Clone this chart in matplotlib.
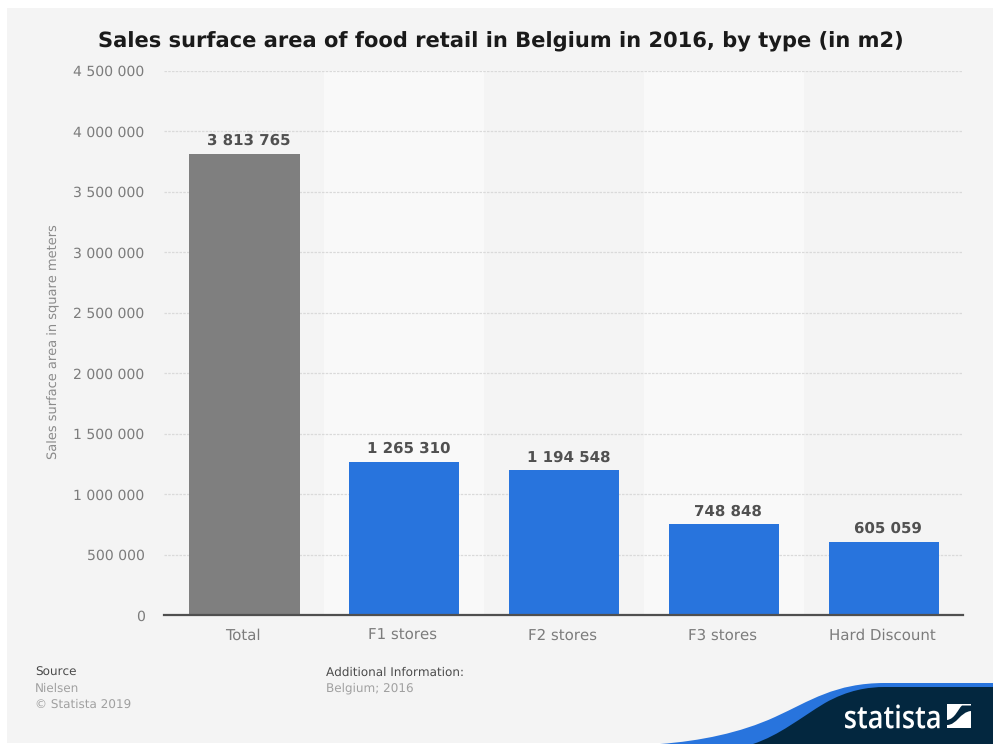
import matplotlib
matplotlib.use("Agg")
import matplotlib.pyplot as plt
from matplotlib.patches import PathPatch, Rectangle
from matplotlib.path import Path
from matplotlib.textpath import TextPath
from matplotlib.font_manager import FontProperties
from matplotlib.transforms import Affine2D, ScaledTranslation
from matplotlib.ticker import FuncFormatter

categories = ["Total", "F1 stores", "F2 stores", "F3 stores", "Hard Discount"]
values = [3813765, 1265310, 1194548, 748848, 605059]
bar_colors = ["#7f7f7f", "#2874dd", "#2874dd", "#2874dd", "#2874dd"]
y_ticks = [0, 500000, 1000000, 1500000, 2000000, 2500000, 3000000, 3500000, 4000000, 4500000]

W, H = 993, 744
PANEL = "#f4f4f4"
NAVY = "#03273f"
BLUE = "#2874dd"
M, C, L, Z = Path.MOVETO, Path.CURVE4, Path.LINETO, Path.CLOSEPOLY


def spaced(v):
    return f"{int(v):,}".replace(",", " ")


fig = plt.figure(figsize=(W / 100, H / 100), dpi=100, facecolor="white")
plt.rcParams["font.family"] = "DejaVu Sans"
plt.rcParams["text.hinting"] = "no_hinting"
plt.rcParams["text.hinting_factor"] = 1

# Pixel coordinates with the origin at the top left
px = Affine2D().scale(1 / W, -1 / H).translate(0, 1) + fig.transFigure

fig.add_artist(Rectangle((7, 8), W - 7, H - 9, transform=px, fc=PANEL, ec="none", zorder=-5))

ax = fig.add_axes([164 / W, 1 - 615 / H, (963 - 164) / W, (615 - 70.5) / H])
ax.patch.set_alpha(0)
ax.set_xlim(-0.504, 4.496)
ax.set_ylim(0, 4500000)

# Alternating column bands behind the bars
for i in (1, 3):
    ax.axvspan(i - 0.5, i + 0.5, color="#f9f9f9", lw=0, zorder=0)

ax.set_yticks(y_ticks)
ax.yaxis.set_major_formatter(FuncFormatter(lambda v, _: spaced(v)))
ax.grid(axis="y", color="#dadada", lw=0.9, ls=(0, (2, 1)), zorder=1)
ax.set_axisbelow(True)

ax.bar(range(len(values)), values, width=0.69, color=bar_colors, zorder=2)
for i, v in enumerate(values):
    ax.annotate(spaced(v), (i, v), xytext=(3.2, 4.2), textcoords="offset points",
                ha="center", va="bottom", fontsize=10.5, fontweight="bold",
                color="#505050", zorder=3)

ax.set_xticks(range(len(categories)))
ax.set_xticklabels(categories)
ax.tick_params(axis="x", length=0, labelsize=10.7, labelcolor="#7c7c7c", pad=10)
ax.tick_params(axis="y", length=0, labelsize=10.1, labelcolor="#7c7c7c", pad=14)
nudge = ScaledTranslation(-1.5 / 100, 0, fig.dpi_scale_trans)
for lbl in ax.get_xticklabels():
    lbl.set_transform(lbl.get_transform() + nudge)
for name in ("top", "left", "right"):
    ax.spines[name].set_visible(False)
ax.spines["bottom"].set_color("#4f4f4f")
ax.spines["bottom"].set_linewidth(1.6)

fig.text(54 / W, 1 - 342 / H, "Sales surface area in square meters", rotation=90,
         ha="center", va="center", fontsize=9.1, color="#8a8a8a")
fig.text(501 / W, 1 - 42 / H, "Sales surface area of food retail in Belgium in 2016, by type (in m2)",
         ha="center", va="center", fontsize=15.3, fontweight="bold", color="#1a1a1a")

fig.text(35 / W, 1 - 673 / H, "Source", fontsize=8.9, color="#4a4a4a", va="center")
fig.text(35 / W, 1 - 689 / H, "Nielsen", fontsize=8.4, color="#a0a0a0", va="center")
fig.text(35 / W, 1 - 705 / H, "© Statista 2019", fontsize=8.5, color="#a0a0a0", va="center")
fig.text(326 / W, 1 - 673 / H, "Additional Information:", fontsize=8.9, color="#4a4a4a", va="center")
fig.text(326 / W, 1 - 688.5 / H, "Belgium; 2016", fontsize=8.4, color="#a0a0a0", va="center")

# Brand swoosh in the bottom right corner
blue_path = Path(
    [(660, 744), (700, 741), (740, 733), (775, 717), (810, 701), (835, 683), (885, 683),
     (993, 683), (993, 744), (660, 744)],
    [M, C, C, C, C, C, C, L, L, Z])
navy_path = Path(
    [(753, 744), (780, 735), (800, 718), (825, 703), (848, 690), (868, 687), (885, 687),
     (993, 687), (993, 744), (753, 744)],
    [M, C, C, C, C, C, C, L, L, Z])
fig.add_artist(PathPatch(blue_path, transform=px, fc=BLUE, ec="none", zorder=5))
fig.add_artist(PathPatch(navy_path, transform=px, fc=NAVY, ec="none", zorder=6))

# Wordmark, squeezed horizontally and stretched vertically
tp = TextPath((0, 0), "statista", size=27, prop=FontProperties(family="Open Sans", weight="semibold"))
box = tp.get_extents()
sx = (939.5 - 845) / box.width
sy = (728.5 - 704.5) / box.height
word = Affine2D().translate(-box.x0, -box.y0).scale(sx, -sy).translate(845, 728.5) + px
fig.add_artist(PathPatch(tp, transform=word, fc="white", ec="none", zorder=7))

# Emblem: two white pieces split by a diagonal band
emblem_upper = Path(
    [(947, 704), (971, 704), (971, 705.5), (962, 705.5), (958, 709), (955, 719), (947, 720), (947, 704)],
    [M, L, L, L, C, C, C, Z])
emblem_lower = Path(
    [(971, 711), (971, 728), (947, 728), (947, 725), (957, 725), (960, 712), (971, 711), (971, 711)],
    [M, L, L, L, C, C, C, Z])
fig.add_artist(PathPatch(emblem_upper, transform=px, fc="white", ec="none", zorder=7))
fig.add_artist(PathPatch(emblem_lower, transform=px, fc="white", ec="none", zorder=7))

fig.savefig("out.png", dpi=100, facecolor="white")
